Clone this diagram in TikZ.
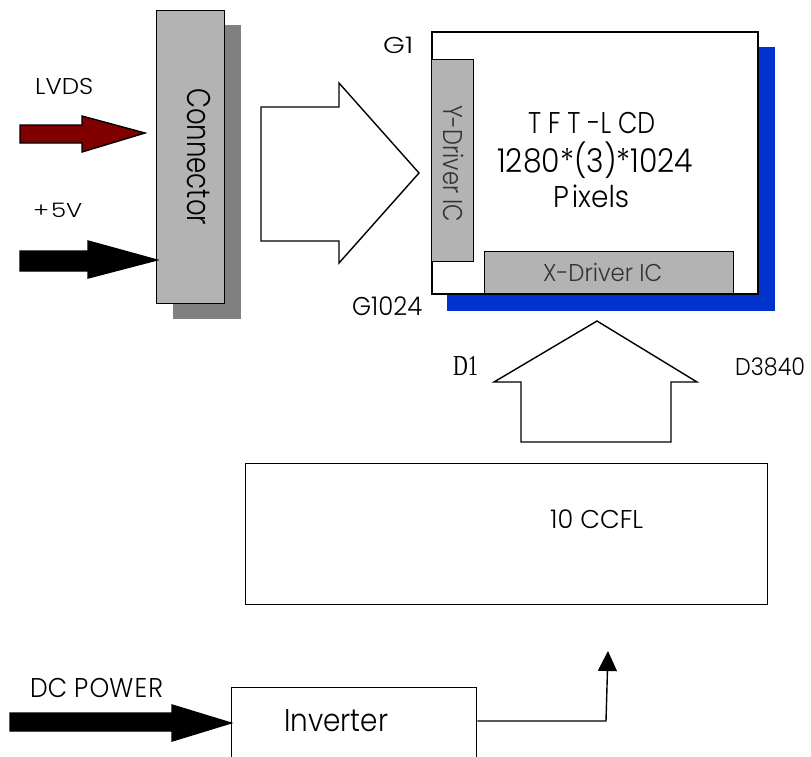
\documentclass[tikz,border=0pt]{standalone}
\usepackage{fontspec}
\usepackage{graphicx}
\setmainfont{Poppins}[UprightFont=* Light]
\newfontfamily\seriffont{Liberation Serif}
\usetikzlibrary{arrows.meta}
\definecolor{boxgray}{HTML}{B3B3B3}
\definecolor{shadowgray}{HTML}{808080}
\definecolor{darkred}{HTML}{800000}
\definecolor{lcdblue}{HTML}{0033CC}
% fit text: width, height (of reference glyph), text
\newcommand\fitT[3]{\resizebox{#1pt}{#2pt}{\raisebox{0pt}[\fontcharht\font`H][0pt]{#3}}}
\newcommand\fitD[3]{\resizebox{#1pt}{#2pt}{\raisebox{0pt}[\fontcharht\font`0][0pt]{#3}}}
\begin{document}
\begin{tikzpicture}[x=1pt,y=-1pt,
  box/.style={draw=black,line width=1.4pt,inner sep=0pt,anchor=north west},
  shadowbox/.style={inner sep=0pt,anchor=north west},
  lbl/.style={inner sep=0pt,anchor=base west,font=\fontsize{20}{24}\selectfont},
  blockarrow/.style={draw=black,line width=1.4pt,line join=miter},
]
\useasboundingbox (0,0) rectangle (811,756);

% Connector with shadow
\node[shadowbox,fill=shadowgray,minimum width=68,minimum height=294] (connsh) at (173,25) {};
\node[box,fill=boxgray,minimum width=68,minimum height=293] (conn) at (156,10) {};
\node[lbl,rotate=-90] (conntxt) at (187,88) {\fitT{137}{23}{Connector}};

% LVDS arrow
\draw[blockarrow,fill=darkred] (20,125) -- (82,125) -- (82,116) -- (145,133) -- (82,152) -- (82,143) -- (20,143) -- cycle;
\node[lbl] (lvds) at (35,94) {\fitT{58}{16}{LVDS}};

% +5V arrow
\draw[blockarrow,fill=black] (20,251) -- (88,251) -- (88,241) -- (157,260) -- (88,278) -- (88,271) -- (20,271) -- cycle;
\node[lbl] (fivev) at (33,217) {\fitT{49}{14}{+\kern1.5pt5V}};

% big right arrow
\draw[blockarrow,fill=white] (261,107) -- (339,107) -- (339,83) -- (419,173) -- (339,263) -- (339,241) -- (261,241) -- cycle;

% TFT-LCD panel
\node[shadowbox,fill=lcdblue,minimum width=328,minimum height=264] (lcdsh) at (447,47) {};
\node[box,fill=white,line width=1.8pt,minimum width=326,minimum height=262] (lcd) at (431,31) {};
\node[box,fill=boxgray,minimum width=42,minimum height=202] (ydrv) at (431,59) {};
\node[box,fill=boxgray,minimum width=249,minimum height=42] (xdrv) at (484,251) {};
\node[lbl,rotate=-90,text=black!80] (ytxt) at (443,105) {\fitT{117}{19}{Y-Driver IC}};
\node[lbl,text=black!80] (xtxt) at (543,281) {\fitT{119}{17}{X-Driver IC}};
\node[lbl] (tft1) at (528,133) {\fitT{127}{21}{T F T -L CD}};
\node[lbl] (tft2) at (497,172) {\fitD{196}{23}{1280*(3)*1024}};
\node[lbl] (tft3) at (553,207) {\fitT{76}{21}{P\kern2pt ixels}};
\node[lbl] (g1) at (383,53) {\fitT{30}{16}{G1}};
\node[lbl] (g1024) at (352,315) {\fitT{70}{18}{G1024}};

% up arrow
\draw[blockarrow,fill=white] (597,321) -- (697,382) -- (671,382) -- (671,442) -- (521,442) -- (521,382) -- (494,382) -- cycle;
\node[lbl,font=\seriffont\fontsize{20}{24}\selectfont] (d1) at (453,375) {\fitT{25}{19}{D1}};
\node[lbl] (d3840) at (735,375) {\fitT{70}{17}{D3840}};

% CCFL
\node[box,minimum width=522,minimum height=141] (ccfl) at (245,463) {};
\node[lbl] (ccfltxt) at (550,528) {\fitT{93}{18}{10 CCFL}};

% DC power arrow
\draw[blockarrow,fill=black] (10,713) -- (172,713) -- (172,705) -- (231,723) -- (172,741) -- (172,731) -- (10,731) -- cycle;
\node[lbl] (dcp) at (30,697) {\fitT{133}{19}{DC P\kern1pt OW\kern1pt E\kern1pt R}};

% Inverter
\node[box,minimum width=245,minimum height=75] (inv) at (231,687) {};
\node[lbl] (invtxt) at (284,731) {\fitT{104}{22}{Inverter}};
\coordinate (bend) at (606,721);
\coordinate (tip) at (608,651);
\draw[line width=1.4pt,-{Triangle[length=20pt,width=19pt]}] (inv.east |- bend) -- (bend) -- (tip);
\end{tikzpicture}
\end{document}
